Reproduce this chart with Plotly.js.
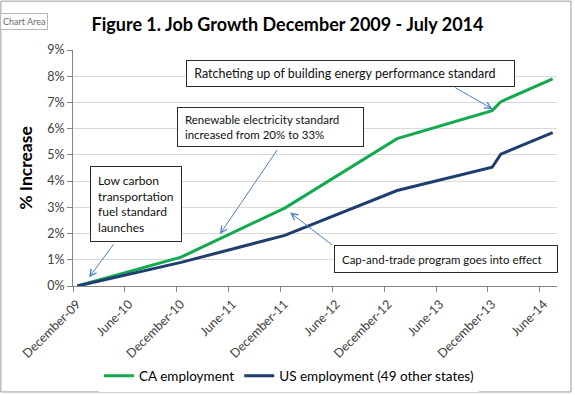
<!DOCTYPE html>
<html>
<head>
<meta charset="utf-8">
<script src="https://cdn.plot.ly/plotly-3.0.1.min.js"></script>
<style>
  html, body { margin: 0; padding: 0; background: #ffffff; }
  #chart { width: 575px; height: 395px; }
</style>
</head>
<body>
<div id="chart"></div>
<script>
// Months counted from December 2009 (0 = Dec-09)
const monthIndex = [0, 12, 24, 37, 48, 49, 55];
const monthNames = ['Dec 2009', 'Dec 2010', 'Dec 2011', 'Jan 2013', 'Dec 2013', 'Jan 2014', 'Jul 2014'];
const caGrowth = [0, 1.10, 2.97, 5.62, 6.69, 7.03, 7.90];
const usGrowth = [0, 0.90, 1.93, 3.64, 4.53, 5.03, 5.85];

const tickPositions = [-0.5, 5.5, 11.5, 17.5, 23.5, 29.5, 35.5, 41.5, 47.5, 53.5];
const tickLabels = ['December-09', 'June-10', 'December-10', 'June-11', 'December-11',
                    'June-12', 'December-12', 'June-13', 'December-13', 'June-14'];

const seriesNames = ['CA employment', 'US employment (49 other states)'];
const seriesColors = ['#13a94f', '#1f3d6e'];

const FONT = 'Lato, "Open Sans", sans-serif';
const SP = '&nbsp;';

const traces = [
  {
    x: monthIndex, y: caGrowth, text: monthNames, name: seriesNames[0],
    type: 'scatter', mode: 'lines',
    line: { color: seriesColors[0], width: 3 },
    hovertemplate: '%{text}: %{y:.2f}%<extra></extra>'
  },
  {
    x: monthIndex, y: usGrowth, text: monthNames, name: seriesNames[1],
    type: 'scatter', mode: 'lines',
    line: { color: seriesColors[1], width: 3 },
    hovertemplate: '%{text}: %{y:.2f}%<extra></extra>'
  }
];

const boxStyle = {
  showarrow: false, xref: 'x', yref: 'y', align: 'left', valign: 'middle',
  bordercolor: '#2b2b2b', borderwidth: 1, borderpad: 4, bgcolor: '#ffffff',
  font: { family: FONT, size: 11.5, color: '#111111' }
};
const arrowStyle = {
  text: '', showarrow: true, xref: 'x', yref: 'y', axref: 'x', ayref: 'y',
  arrowhead: 5, arrowsize: 1.3, arrowwidth: 1, arrowcolor: '#4a7ebb',
  font: { size: 1 }, standoff: 0, startstandoff: 0
};

function lines(arr) { return arr.map(s => SP + s).join('<br>'); }

const annotations = [
  Object.assign({}, boxStyle, { x: 6.76, y: 3.11, width: 82, height: 66,
    font: { family: FONT, size: 12, color: '#111111' },
    text: lines(['Low carbon', 'transportation', 'fuel standard', 'launches']) }),
  Object.assign({}, boxStyle, { x: 22.34, y: 6.045, width: 177, height: 30,
    text: lines(['Renewable electricity standard', 'increased from 20% to 33%']) }),
  Object.assign({}, boxStyle, { x: 31.63, y: 8.12, width: 319, height: 17,
    font: { family: FONT, size: 12.5, color: '#111111' },
    text: lines(['Ratcheting up of building energy performance standard']) }),
  Object.assign({}, boxStyle, { x: 42.62, y: 1.035, width: 214, height: 18,
    text: lines(['Cap-and-trade program goes into effect']) }),

  Object.assign({}, arrowStyle, { x: 1.36, y: 0.33, ax: 4.33, ay: 1.65 }),
  Object.assign({}, arrowStyle, { x: 16.5, y: 1.98, ax: 23.26, ay: 5.25 }),
  Object.assign({}, arrowStyle, { x: 48.03, y: 6.75, ax: 43.55, ay: 7.60 }),
  Object.assign({}, arrowStyle, { x: 24.62, y: 2.80, ax: 29.64, ay: 1.525 }),

  { text: 'Chart Area', showarrow: false, xref: 'paper', yref: 'paper',
    x: -0.151, y: 1.12, xanchor: 'left', yanchor: 'middle',
    bgcolor: '#ffffff', bordercolor: '#b8b8b8', borderwidth: 1, borderpad: 2,
    font: { family: FONT, size: 9, color: '#6b6b6b' } }
];

const layout = {
  width: 575, height: 395,
  margin: { l: 73, r: 18, t: 50, b: 109 },
  paper_bgcolor: '#ffffff', plot_bgcolor: '#ffffff',
  font: { family: FONT, color: '#404040' },
  title: {
    text: '<b>Figure 1. Job Growth December 2009 - July 2014</b>',
    xref: 'container', x: 0.5, xanchor: 'center',
    yref: 'container', y: 0.938, yanchor: 'middle',
    font: { family: FONT, size: 18, color: '#000000' }
  },
  xaxis: {
    range: [-0.5, 55.5], tickmode: 'array',
    tickvals: tickPositions, ticktext: tickLabels,
    tickangle: -45, ticklabelshift: 4,
    ticks: 'outside', ticklen: 5, tickcolor: '#868686',
    showgrid: false, zeroline: false,
    showline: true, linecolor: '#868686', linewidth: 1,
    tickfont: { family: FONT, size: 12.5, color: '#404040' },
    fixedrange: true
  },
  yaxis: {
    range: [0, 9], dtick: 1, tick0: 0, ticksuffix: '%',
    ticks: 'outside', ticklen: 5, tickcolor: '#868686',
    showgrid: true, gridcolor: '#d9d9d9', gridwidth: 1,
    zeroline: false, showline: true, linecolor: '#868686', linewidth: 1,
    tickfont: { family: FONT, size: 12.5, color: '#404040' },
    title: { text: '<b>% Increase</b>', standoff: 10,
             font: { family: FONT, size: 17.5, color: '#000000' } },
    fixedrange: true
  },
  showlegend: true,
  legend: {
    orientation: 'h', xref: 'container', yref: 'container',
    x: 0.5026, xanchor: 'center', y: 0.048, yanchor: 'middle',
    font: { family: FONT, size: 13.5, color: '#000000' },
    itemclick: false, itemdoubleclick: false, tracegroupgap: 0
  },
  annotations: annotations,
  shapes: [
    { type: 'rect', xref: 'paper', yref: 'paper',
      x0: -0.149, x1: 1.029, y0: -0.449, y1: 1.207,
      line: { color: '#9a9a9a', width: 1 }, fillcolor: 'rgba(0,0,0,0)', layer: 'below' }
  ],
  hovermode: 'closest'
};

Plotly.newPlot('chart', traces, layout, { displayModeBar: false, staticPlot: false });
</script>
</body>
</html>
